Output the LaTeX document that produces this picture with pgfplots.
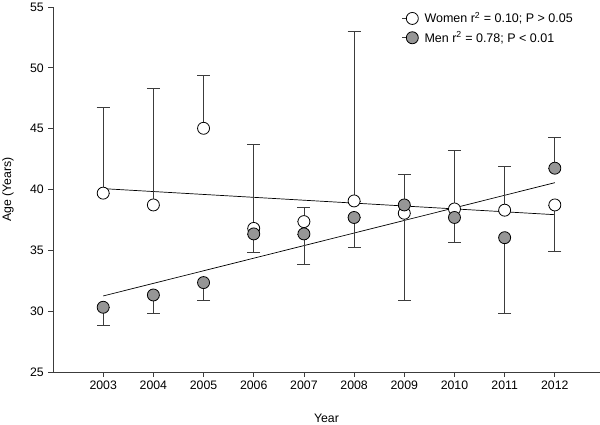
\documentclass[border=0pt]{standalone}
\usepackage{fontspec}
\setmainfont{Liberation Sans}
\usepackage{pgfplots}
\pgfplotsset{compat=1.18}
\definecolor{axgray}{RGB}{60,60,60}
\definecolor{mengray}{RGB}{150,150,150}
\newcommand{\chartfont}{\fontsize{12.3pt}{15pt}\selectfont}
\newcommand{\legfont}{\fontsize{12.5pt}{15pt}\selectfont}
\begin{document}
\chartfont
\begin{tikzpicture}
\begin{axis}[
  scale only axis, width=547pt, height=365pt,
  xmin=2002, xmax=2012.9, ymin=25, ymax=55,
  axis lines*=left,
  axis line style={axgray, line width=0.8pt, -},
  xtick={2003,2004,2005,2006,2007,2008,2009,2010,2011,2012},
  ytick={25,30,35,40,45,50,55},
  x tick label style={/pgf/number format/1000 sep={}},
  /pgf/number format/assume math mode=true,
  tick label style={font=\chartfont},
  label style={font=\chartfont},
  tick align=outside,
  tick style={axgray, line width=0.8pt},
  major tick length=5pt,
  xlabel={Year}, ylabel={Age (Years)},
  every axis x label/.style={at={(axis description cs:0.5,0)}, anchor=center, yshift=-46pt, font=\chartfont},
  every axis y label/.style={at={(axis description cs:0,0.5)}, rotate=90, anchor=center, yshift=45pt, font=\chartfont},
  clip=false,
  legend style={draw=none, fill=none, at={(axis description cs:0.632,0.997)}, anchor=north west,
    font=\legfont, row sep=3pt, cells={anchor=west}},
  legend image code/.code={\draw[axgray, line width=0.8pt] (0pt,0pt)--(5pt,0pt); \draw[#1] plot[only marks] coordinates {(10pt,0pt)}; \path (20pt,0pt);},
]
\addplot[black, line width=0.7pt, forget plot] coordinates {(2003,40.07) (2012,37.93)};
\addplot[black, line width=0.7pt, forget plot] coordinates {(2003,31.25) (2012,40.56)};
\addplot[only marks, mark=*, mark size=6pt, mark options={fill=white, draw=black, line width=0.8pt},
  error bars/.cd, y dir=both, y explicit,
  error bar style={axgray, line width=0.8pt},
  error mark options={rotate=90, mark size=6.5pt, axgray, line width=0.8pt}]
coordinates {
(2003,39.7) += (0,7.08) -= (0,0)
(2004,38.73) += (0,9.59) -= (0,0)
(2005,45.03) += (0,4.38) -= (0,0)
(2006,36.8) += (0,6.92) -= (0,0)
(2007,37.36) += (0,1.14) -= (0,0)
(2008,39.06) += (0,13.94) -= (0,0)
(2009,38.05) += (0,0) -= (0,7.18)
(2010,38.4) += (0,4.8) -= (0,0)
(2011,38.3) += (0,3.58) -= (0,0)
(2012,38.73) += (0,0) -= (0,3.78)
};
\addlegendentry{Women r\textsuperscript{2} = 0.10; P > 0.05}
\addplot[only marks, mark=*, mark size=6pt, mark options={fill=mengray, draw=black, line width=0.8pt},
  error bars/.cd, y dir=both, y explicit,
  error bar style={axgray, line width=0.8pt},
  error mark options={rotate=90, mark size=6.5pt, axgray, line width=0.8pt}]
coordinates {
(2003,30.32) += (0,0) -= (0,1.48)
(2004,31.33) += (0,0) -= (0,1.5)
(2005,32.35) += (0,0) -= (0,1.48)
(2006,36.35) += (0,0) -= (0,1.51)
(2007,36.35) += (0,0) -= (0,2.49)
(2008,37.7) += (0,0) -= (0,2.45)
(2009,38.73) += (0,2.55) -= (0,0)
(2010,37.7) += (0,0) -= (0,2.07)
(2011,36.04) += (0,0) -= (0,6.21)
(2012,41.75) += (0,2.51) -= (0,0)
};
\addlegendentry{Men r\textsuperscript{2} = 0.78; P < 0.01}
\end{axis}
\pgfresetboundingbox
\path ([xshift=-53pt,yshift=-53pt]current axis.south west) rectangle ([yshift=7pt]current axis.north east);
\end{tikzpicture}
\end{document}
